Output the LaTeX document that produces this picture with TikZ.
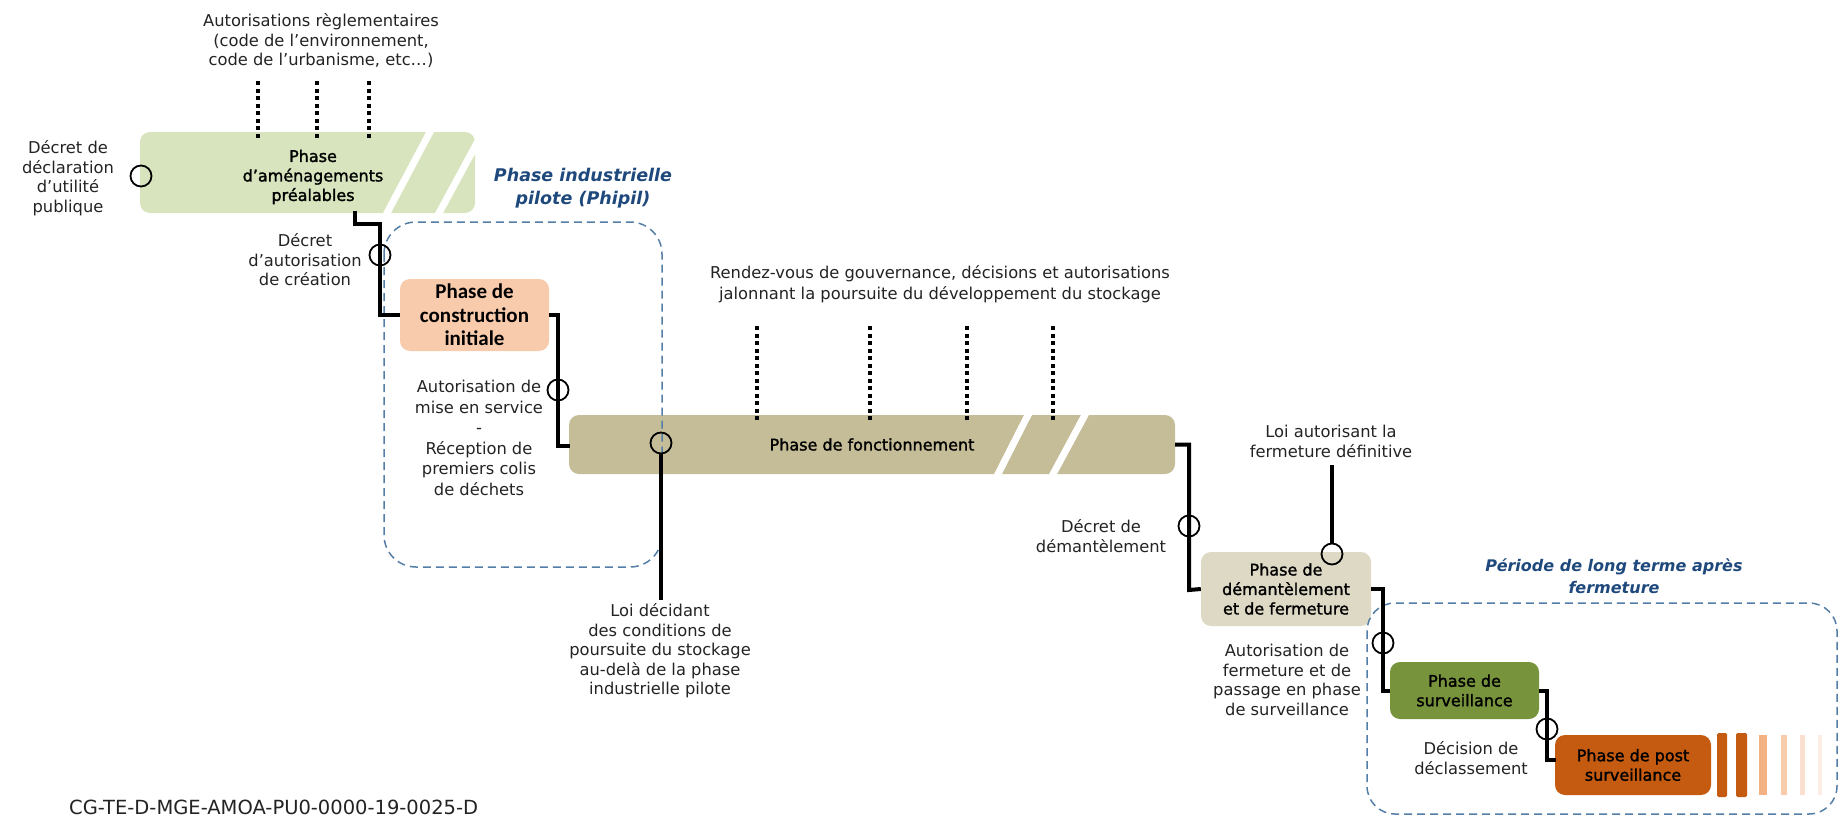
\documentclass[tikz,border=0pt]{standalone}
\usepackage{fontspec}
\setmainfont{DejaVu Sans}
\newfontfamily\calfont{Carlito}
\newfontfamily\medfont[FakeBold=1.6]{DejaVu Sans}
\definecolor{greenbox}{RGB}{215,228,189}
\definecolor{peach}{RGB}{248,203,173}
\definecolor{khaki}{RGB}{196,189,151}
\definecolor{beige}{RGB}{221,217,196}
\definecolor{olive}{RGB}{119,147,60}
\definecolor{rust}{RGB}{197,90,17}
\definecolor{stripeA}{RGB}{244,177,131}
\definecolor{stripeB}{RGB}{248,203,173}
\definecolor{stripeC}{RGB}{251,224,207}
\definecolor{stripeD}{RGB}{253,238,229}
\definecolor{dashblue}{RGB}{84,126,166}
\definecolor{titleblue}{RGB}{31,73,125}
\definecolor{txt}{RGB}{35,35,35}
\begin{document}
\begin{tikzpicture}[x=1pt,y=-1pt,
  lbl/.style={align=center, inner sep=0pt, text=txt, font=\fontsize{16.3}{19.5}\selectfont},
  phasebox/.style={rounded corners=10pt, inner sep=0pt, align=center, text=black, font=\medfont\fontsize{16}{19.5}\selectfont},
  conn/.style={line width=4pt, draw=black},
  ring/.style={circle, draw=black, line width=1.8pt, minimum size=21pt, inner sep=0pt},
  dotline/.style={line width=4.5pt, draw=black, dash pattern=on 4pt off 3.5pt},
  dashbox/.style={draw=dashblue, line width=1.5pt, dash pattern=on 8pt off 5pt, rounded corners=32pt},
  slashcut/.style={draw=white, line width=7pt},
  ttl/.style={align=center, inner sep=0pt, text=titleblue, font=\bfseries\itshape\fontsize{17.5}{23}\selectfont}
]
\useasboundingbox (0,0) rectangle (1842,819);

% ---------- boxes ----------
\node[phasebox, fill=greenbox, minimum width=335pt, minimum height=81pt] (amen) at (307.5,172.5) {};
\node[phasebox, fill=peach, minimum width=149pt, minimum height=72pt,
      font=\calfont\bfseries\fontsize{21}{23.5}\selectfont] (constr) at (474.5,315) {Phase de\\construction\\initiale};
\node[phasebox, fill=khaki, minimum width=606pt, minimum height=59pt] (fonct) at (872,444.5) {Phase de fonctionnement};
\node[phasebox, fill=beige, minimum width=170pt, minimum height=74pt] (dem) at (1286,589) {Phase de\\démantèlement\\et de fermeture};
\node[phasebox, fill=olive, minimum width=149pt, minimum height=57pt] (surv) at (1464.5,690.5) {Phase de\\surveillance};
\node[phasebox, fill=rust, minimum width=156pt, minimum height=60pt] (post) at (1633,765) {Phase de post\\surveillance};
\node[lbl, text=black, font=\medfont\fontsize{16}{19.5}\selectfont] (amentxt) at (313,177) {Phase\\d’aménagements\\préalables};

% stripes after post-surveillance
\fill[rust, rounded corners=1.5pt] (1717,733) rectangle (1727,797);
\fill[rust, rounded corners=1.5pt] (1736,733) rectangle (1747,797);
\fill[stripeA] (1759,735) rectangle (1767,795);
\fill[stripeB] (1781,735) rectangle (1787,795);
\fill[stripeC] (1800,735) rectangle (1805,795);
\fill[stripeD] (1818,735) rectangle (1822,795);

% white slash cuts
\draw[slashcut] (431.6,129) -- (385.4,216);
\draw[slashcut] (478.6,140) -- (437.4,216);
\draw[slashcut] (1029.5,412) -- (996.5,477);
\draw[slashcut] (1086.5,412) -- (1051.5,477);

% dotted milestones
\foreach \xx in {258,317,369} \draw[dotline] (\xx,81) -- (\xx,140);
\foreach \xx in {757,870,967,1053} \draw[dotline] (\xx,326) -- (\xx,421);

% dashed groupings
\draw[dashbox] (384,222) rectangle (662,567);
\draw[dashbox, rounded corners=28pt] (1367,603) rectangle (1837,814);

% ---------- labels ----------
\node[lbl] (autreg) at (321,41) {Autorisations règlementaires\\(code de l’environnement,\\code de l’urbanisme, etc…)};
\node[lbl] (dup) at (68,178) {Décret de\\déclaration\\d’utilité\\publique};
\node[lbl] (dac) at (305,260) {Décret\\d’autorisation\\de création};
\node[lbl, font=\fontsize{16.3}{20.5}\selectfont] (ams) at (479,438) {Autorisation de\\mise en service\\-\\Réception de\\premiers colis\\de déchets};
\node[lbl, font=\fontsize{16.3}{20.5}\selectfont] (rdv) at (940,284) {Rendez-vous de gouvernance, décisions et autorisations\\jalonnant la poursuite du développement du stockage};
\node[lbl] (loidec) at (660,651) {Loi décidant\\des conditions de\\poursuite du stockage\\au-delà de la phase\\industrielle pilote};
\node[lbl] (ddem) at (1101,536) {Décret de\\démantèlement};
\node[lbl, font=\fontsize{16.3}{20}\selectfont] (loiaut) at (1331,441) {Loi autorisant la\\fermeture définitive};
\node[lbl] (afps) at (1287,680) {Autorisation de\\fermeture et de\\passage en phase\\de surveillance};
\node[lbl, font=\fontsize{16.3}{20}\selectfont] (ddecl) at (1471,758) {Décision de\\déclassement};
\node[ttl] (phipil) at (583,188) {Phase industrielle\\pilote (Phipil)};
\node[ttl, font=\bfseries\itshape\fontsize{16}{21.5}\selectfont] (longterme) at (1614,576) {Période de long terme après\\fermeture};
\node[lbl, anchor=west, font=\fontsize{19.5}{22}\selectfont] (ref) at (69,807) {CG-TE-D-MGE-AMOA-PU0-0000-19-0025-D};

% ---------- connectors ----------
\draw[conn] (355,211) |- (380,224) |- (constr.west);
\draw[conn] (constr.east) -| (558,446) -- (570,446);
\draw[conn] (fonct.east) -| (1189,590) -- (dem.west);
\draw[conn] (dem.east) -| (1383,690.5) -- (surv.west);
\draw[conn] (surv.east) -| (1547,760) -- (1556,760);

% ---------- milestone rings ----------
\node[ring] (r1) at (141,176) {};
\node[ring] (r2) at (380,255) {};
\node[ring] (r3) at (558,390) {};
\node[ring] (r4) at (661,443) {};
\node[ring] (r5) at (1189,526) {};
\node[ring] (r6) at (1332,554) {};
\node[ring] (r7) at (1383,643) {};
\node[ring] (r8) at (1547,729) {};

\draw[conn] (r4.south) -- (661,600);
\draw[conn] (1332,465) -- (r6.north);
\end{tikzpicture}
\end{document}
